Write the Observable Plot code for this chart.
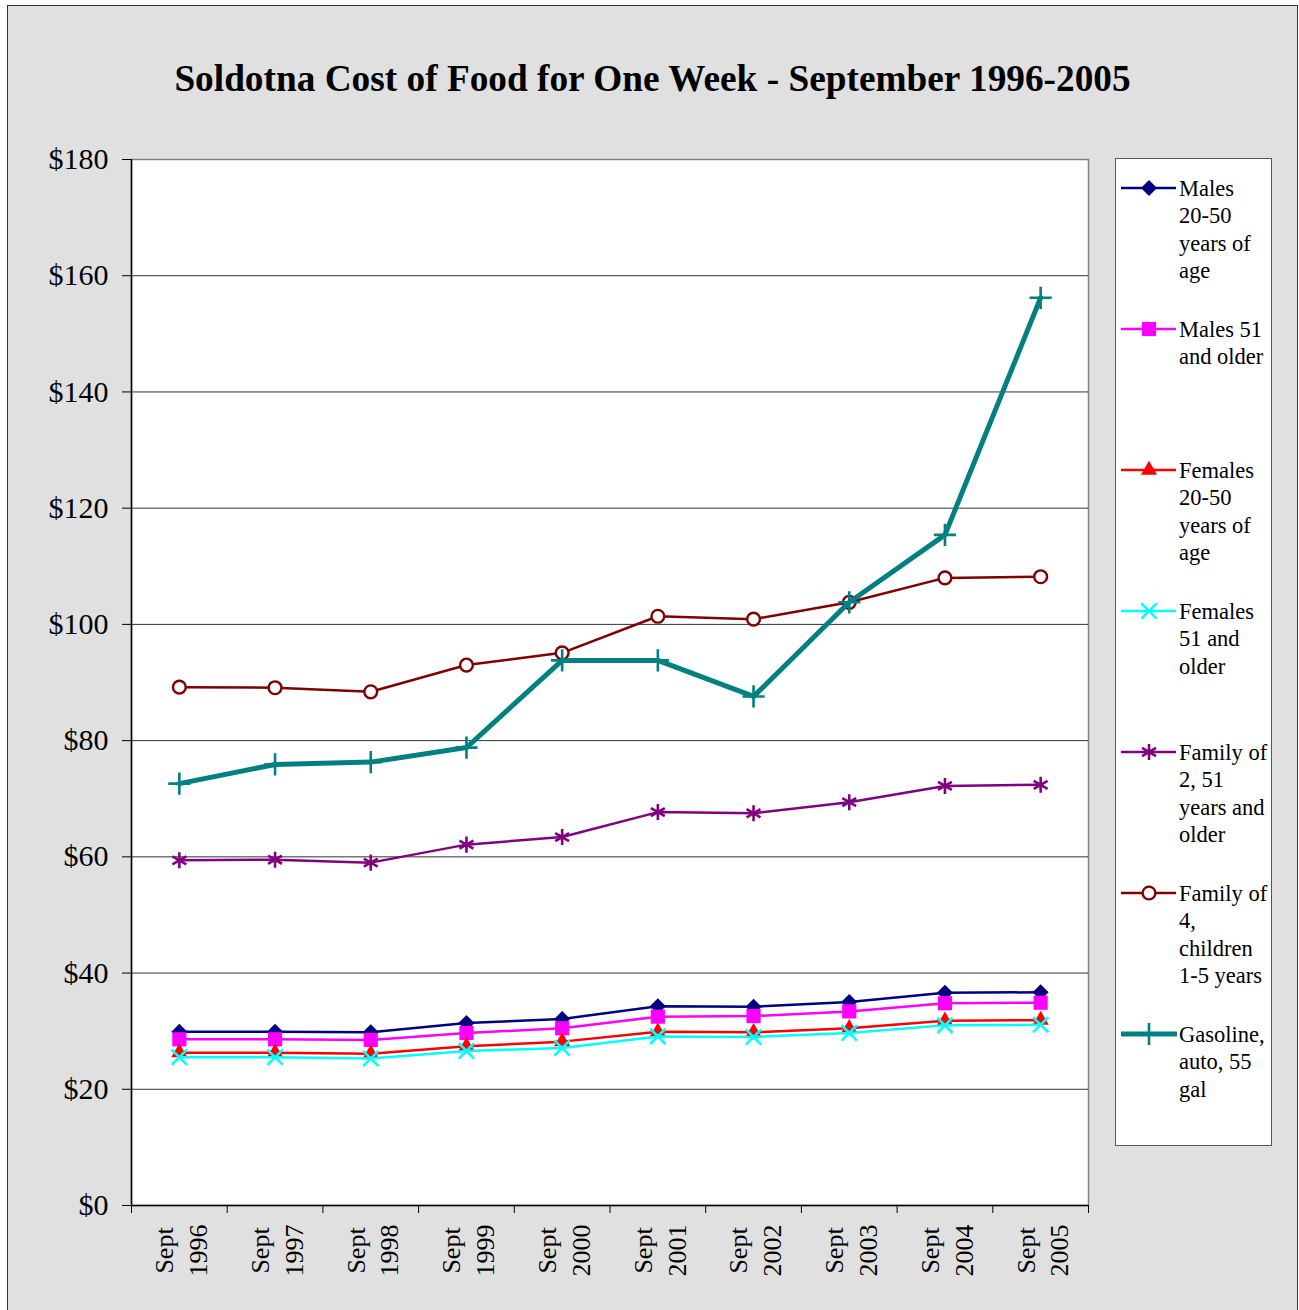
<!DOCTYPE html>
<html>
<head>
<meta charset="utf-8">
<script src="https://cdn.jsdelivr.net/npm/d3@7"></script>
<script src="https://cdn.jsdelivr.net/npm/@observablehq/plot@0.6"></script>
<style>
  body { margin: 0; background: #fff; }
  #page { position: relative; width: 1299px; height: 1310px; overflow: hidden; font-family: "Liberation Serif", "Times New Roman", serif; }
  #bg { position: absolute; left: 7px; top: 5px; width: 1291px; height: 1330px; background: #e0e0e0; border: 1.5px solid #333; box-sizing: border-box; }
  #title { position: absolute; left: 7px; width: 1291px; top: 60px; text-align: center; font-weight: bold; font-size: 37.3px; line-height: 1; white-space: nowrap; }
  #chart { position: absolute; left: 0; top: 0; }
  #legend { position: absolute; left: 1115px; top: 158px; width: 157px; height: 988px; background: #fff; border: 1px solid #555; box-sizing: border-box; }
  .sample { position: absolute; left: 5px; }
  .ltext { position: absolute; left: 63px; font-size: 22.5px; line-height: 27.5px; white-space: pre; color: #000; }
</style>
</head>
<body>
<div id="page">
  <div id="bg"></div>
  <div id="title">Soldotna Cost of Food for One Week - September 1996-2005</div>
  <div id="chart"></div>
  <div id="legend"></div>
</div>
<script>
// ---- data ----
const years = ["1996", "1997", "1998", "1999", "2000", "2001", "2002", "2003", "2004", "2005"];
const xLabels = years.map(y => "Sept\n" + y);
const yTicks = [0, 20, 40, 60, 80, 100, 120, 140, 160, 180];
const gridTicks = [20, 40, 60, 80, 100, 120, 140, 160];

const males2050   = [29.9, 29.9, 29.8, 31.4, 32.1, 34.3, 34.2, 35.0, 36.6, 36.7];
const males51     = [28.6, 28.6, 28.5, 29.7, 30.5, 32.5, 32.6, 33.4, 34.8, 34.9];
const females2050 = [26.3, 26.3, 26.1, 27.4, 28.2, 29.9, 29.8, 30.5, 31.8, 31.9];
const females51   = [25.5, 25.5, 25.3, 26.6, 27.1, 29.1, 29.0, 29.7, 31.0, 31.1];
const family2     = [59.4, 59.5, 59.0, 62.1, 63.4, 67.7, 67.5, 69.4, 72.2, 72.4];
const family4     = [89.2, 89.1, 88.4, 93.0, 95.1, 101.4, 100.9, 103.8, 108.0, 108.2];
const gasoline    = [72.6, 75.9, 76.3, 78.8, 93.8, 93.8, 87.6, 103.8, 115.4, 156.2];

const seriesNames = [
  "Males\n20-50\nyears of\nage",
  "Males 51\nand older",
  "Females\n20-50\nyears of\nage",
  "Females\n51 and\nolder",
  "Family of\n2, 51\nyears and\nolder",
  "Family of\n4,\nchildren\n1-5 years",
  "Gasoline,\nauto, 55\ngal"
];
const seriesValues = [males2050, males51, females2050, females51, family2, family4, gasoline];

// ---- styles ----
const styles = [
  {color: "#000080", lw: 2.5, symbol: "diamond2", d3sym: d3.symbolDiamond2, r: 7.2, fill: "#000080", stroke: "none", sw: 0},
  {color: "#FF00FF", lw: 2.5, symbol: "square",   d3sym: d3.symbolSquare,   r: 8.0, fill: "#FF00FF", stroke: "none", sw: 0},
  {color: "#FF0000", lw: 2.5, symbol: "triangle", d3sym: d3.symbolTriangle, r: 6.0, fill: "#FF0000", stroke: "none", sw: 0},
  {color: "#00FFFF", lw: 2.5, symbol: "times",    d3sym: d3.symbolTimes,    r: 7.0, fill: "none", stroke: "#00FFFF", sw: 2.6},
  {color: "#800080", lw: 2.5, symbol: "asterisk", d3sym: d3.symbolAsterisk, r: 7.6, fill: "none", stroke: "#800080", sw: 2.6},
  {color: "#800000", lw: 2.5, symbol: "circle",   d3sym: d3.symbolCircle,   r: 6.4, fill: "#FFFFFF", stroke: "#800000", sw: 2.4},
  {color: "#008080", lw: 5,   symbol: "plus",     d3sym: d3.symbolPlus,     r: 7.2, fill: "none", stroke: "#008080", sw: 2.6}
];

const xIdx = (d, i) => i + 0.5;

const seriesMarks = [];
seriesValues.forEach((vals, k) => {
  const s = styles[k];
  seriesMarks.push(Plot.line(vals, {x: xIdx, y: d => d, stroke: s.color, strokeWidth: s.lw, strokeLinejoin: "round"}));
  seriesMarks.push(Plot.dot(vals, {x: xIdx, y: d => d, symbol: () => s.symbol, r: s.r, fill: s.fill, stroke: s.stroke, strokeWidth: s.sw}));
});

const chart = Plot.plot({
  width: 1100,
  height: 1300,
  marginLeft: 131,
  marginRight: 12,
  marginTop: 159,
  marginBottom: 95,
  x: {type: "linear", domain: [0, 10]},
  y: {type: "linear", domain: [0, 180]},
  symbol: {type: "identity"},
  style: {fontFamily: "'Liberation Serif', 'Times New Roman', serif", fontSize: "30px", background: "transparent", color: "#000"},
  marks: [
    Plot.frame({fill: "white", stroke: "#808080", strokeWidth: 1.5}),
    Plot.gridY(gridTicks, {stroke: "#333", strokeOpacity: 1, strokeWidth: 1}),
    Plot.ruleX([0], {stroke: "#000", strokeWidth: 1.5}),
    Plot.ruleY([0], {stroke: "#000", strokeWidth: 1.5}),
    Plot.axisY({ticks: yTicks, tickFormat: d => "$" + d, tickSize: 9, tickPadding: 14, fontSize: 30}),
    Plot.axisX({ticks: d3.range(0, 11), tickFormat: () => "", tickSize: 8}),
    Plot.text(xLabels, {x: xIdx, frameAnchor: "bottom", dy: 45, rotate: -90, textAnchor: "middle", lineAnchor: "middle", lineHeight: 1.3, fontSize: 26, fill: "#000"}),
    ...seriesMarks
  ]
});
document.getElementById("chart").appendChild(chart);

// ---- legend ----
const legend = d3.select("#legend");
const legendTop = 158;
seriesNames.forEach((name, k) => {
  const s = styles[k];
  const lineY = 187 + 141 * k;
  const sv = legend.append("svg").attr("class", "sample")
    .attr("width", 56).attr("height", 24)
    .style("top", (lineY - legendTop - 12) + "px");
  sv.append("line").attr("x1", 0).attr("x2", 55).attr("y1", 12).attr("y2", 12)
    .attr("stroke", s.color).attr("stroke-width", s.lw).attr("stroke-linecap", k === 6 ? "round" : "butt");
  sv.append("path")
    .attr("d", d3.symbol(s.d3sym, Math.PI * s.r * s.r)())
    .attr("transform", "translate(28,12)")
    .attr("fill", s.fill).attr("stroke", s.stroke).attr("stroke-width", s.sw);
  legend.append("div").attr("class", "ltext")
    .style("top", (lineY - legendTop - 13.5) + "px")
    .text(name);
});
</script>
</body>
</html>
